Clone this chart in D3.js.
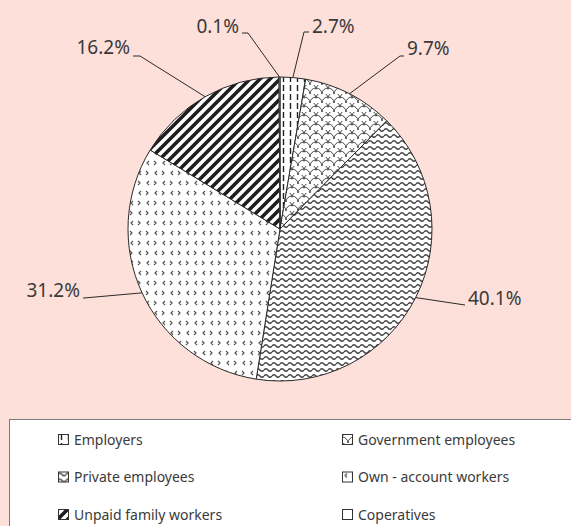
<!DOCTYPE html>
<html>
<head>
<meta charset="utf-8">
<script src="https://cdn.jsdelivr.net/npm/d3@7"></script>
<style>
  html, body { margin: 0; padding: 0; background: #fde0d9; }
  svg { display: block; }
  text { font-family: "Noto Sans", sans-serif; fill: #3a3a3a; }
</style>
</head>
<body>
<div id="chart"></div>
<script>
var categories = ["Employers", "Government employees", "Private employees",
  "Own - account workers", "Unpaid family workers", "Coperatives"];
var shares = [2.7, 9.7, 40.1, 31.2, 16.2, 0.1];
var shareLabels = ["2.7%", "9.7%", "40.1%", "31.2%", "16.2%", "0.1%"];
// legend reads row by row, two columns
var legendOrder = ["Employers", "Government employees", "Private employees",
  "Own - account workers", "Unpaid family workers", "Coperatives"];

var width = 571, height = 526;
var cx = 280, cy = 229, radius = 152;

// where the data labels sit (text anchor point, baseline) and their leader elbow
var labelLayout = {
  "Employers":             { x: 312, y: 33,  anchor: "start", elbowX: 304, lineY: 32 },
  "Government employees":  { x: 407, y: 55,  anchor: "start", elbowX: 400, lineY: 56 },
  "Private employees":     { x: 468, y: 305, anchor: "start", elbowX: 465, lineY: 305 },
  "Own - account workers": { x: 80,  y: 297, anchor: "end",   elbowX: 84,  lineY: 298 },
  "Unpaid family workers": { x: 130, y: 54,  anchor: "end",   elbowX: 140, lineY: 56 },
  "Coperatives":           { x: 239, y: 33,  anchor: "end",   elbowX: 248, lineY: 33 }
};

var svg = d3.select("#chart").append("svg")
  .attr("width", width)
  .attr("height", height)

svg.append("rect")
  .attr("width", width)
  .attr("height", height)
  .attr("fill", "#fde0d9")

var defs = svg.append("defs")

var makePattern = function (id, w, h) {
  var pat = defs.append("pattern").attr("id", id)
    .attr("patternUnits", "userSpaceOnUse").attr("width", w).attr("height", h)
  pat.append("rect").attr("width", w).attr("height", h).attr("fill", "#fff")
  return pat
}

// Employers: vertical dashes
var p = makePattern("pat0", 7, 9)
p.append("line").attr("x1", 3.5).attr("x2", 3.5).attr("y1", 0).attr("y2", 6)
  .attr("stroke", "#222").attr("stroke-width", 1.4)

// Government: shingle / scales
p = makePattern("pat1", 12, 9)
p.append("path")
  .attr("d", "M0,4.5 A6,6 0 0 1 12,4.5 M-6,9 A6,6 0 0 1 6,9 M6,9 A6,6 0 0 1 18,9 M-6,0 A6,6 0 0 1 6,0 M6,0 A6,6 0 0 1 18,0")
  .attr("fill", "none").attr("stroke", "#333").attr("stroke-width", 0.9)

// Private: waves
p = makePattern("pat2", 8, 6)
p.append("path").attr("d", "M0,3 Q2,0.5 4,3 T8,3")
  .attr("fill", "none").attr("stroke", "#444").attr("stroke-width", 1.4)

// Own-account: divots
p = makePattern("pat3", 16, 20)
p.append("path")
  .attr("d", "M5,2 L3,4 L5,6 M10,2 L12,4 L10,6 M13,12 L11,14 L13,16 M2,12 L4,14 L2,16")
  .attr("fill", "none").attr("stroke", "#555").attr("stroke-width", 1.2)

// Unpaid family: wide upward diagonal
p = makePattern("pat4", 10, 10)
p.append("path").attr("d", "M-2,12 L12,-2 M-7,7 L3,-3 M7,13 L13,7")
  .attr("fill", "none").attr("stroke", "#1e1e1e").attr("stroke-width", 3.6)

// Coperatives: plain
p = makePattern("pat5", 4, 4)

var fillFor = function (name) {
  return "url(#pat" + categories.indexOf(name) + ")"
}

var pie = d3.pie().sort(null).value(function (d) { return d.value })
var arc = d3.arc().innerRadius(0).outerRadius(radius)

var slices = pie(categories.map(function (c, i) {
  return { name: c, value: shares[i], label: shareLabels[i] }
}))

var g = svg.append("g").attr("transform", "translate(" + cx + "," + cy + ")")

g.selectAll("path.slice")
  .data(slices)
  .enter().append("path")
  .attr("class", "slice")
  .attr("d", arc)
  .attr("fill", function (d) { return fillFor(d.data.name) })
  .attr("stroke", "#2a2a2a")
  .attr("stroke-width", 1)

// labels with leader lines
slices.forEach(function (d) {
  var lay = labelLayout[d.data.name]
  var a = (d.startAngle + d.endAngle) / 2
  var px = cx + radius * Math.sin(a)
  var py = cy - radius * Math.cos(a)
  var endX = lay.anchor === "start" ? lay.x - 3 : lay.x + 3
  var pts = [[px, py], [lay.elbowX, lay.lineY], [endX, lay.lineY]]

  svg.append("path")
    .attr("d", d3.line()(pts))
    .attr("fill", "none")
    .attr("stroke", "#2a2a2a")
    .attr("stroke-width", 1)

  svg.append("text")
    .attr("x", lay.x)
    .attr("y", lay.y)
    .attr("text-anchor", lay.anchor)
    .attr("font-size", 19)
    .text(d.data.label)
})

// legend
var legend = svg.append("g").attr("transform", "translate(9,419)")
legend.append("rect")
  .attr("x", 0.5).attr("y", 0.5)
  .attr("width", width)
  .attr("height", height)
  .attr("fill", "#fff")
  .attr("stroke", "#7a7a7a")
  .attr("stroke-width", 1)

legendOrder.forEach(function (name, i) {
  var col = i % 2, row = Math.floor(i / 2)
  var lx = col === 0 ? 49 : 333
  var ly = 15 + row * 37.5
  var key = legend.append("g").attr("transform", "translate(" + lx + "," + ly + ")")
  key.append("rect")
    .attr("x", 0.5).attr("y", 0.5)
    .attr("width", 10).attr("height", 10)
    .attr("fill", fillFor(name))
    .attr("stroke", "#333")
    .attr("stroke-width", 1)
  key.append("text")
    .attr("x", 16)
    .attr("y", 10.5)
    .attr("font-size", 14)
    .text(name)
})
</script>
</body>
</html>
